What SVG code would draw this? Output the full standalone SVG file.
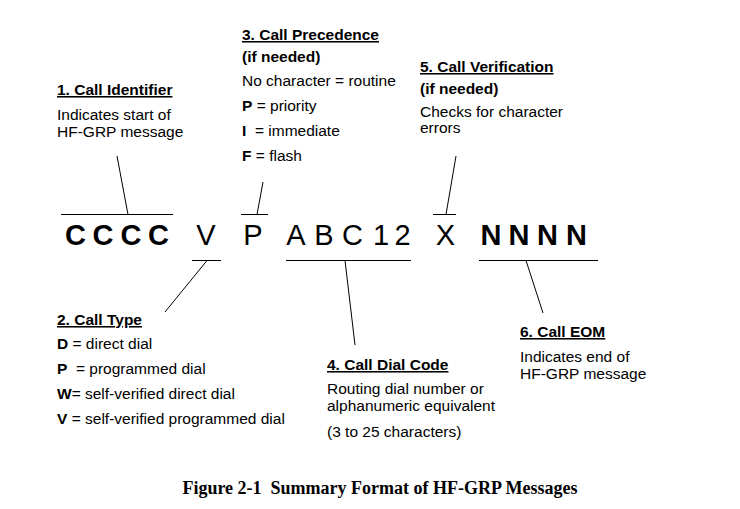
<svg xmlns="http://www.w3.org/2000/svg" width="740" height="509" viewBox="0 0 740 509">
<style>
  text { font-family: "Liberation Sans", Arial, sans-serif; fill: #000; white-space: pre; }
  .h { font-size: 15.5px; font-weight: bold; text-decoration: underline; }
  .hb { font-size: 15.5px; font-weight: bold; }
  .t { font-size: 15.5px; }
  .b { font-weight: bold; }
  .big { font-size: 29px; text-anchor: middle; }
  .bigb { font-size: 29px; font-weight: bold; text-anchor: middle; }
  .cap { font-family: "Liberation Serif", "Times New Roman", serif; font-size: 18px; font-weight: bold; }
  .ln { stroke: #000; stroke-width: 1; fill: none; }
</style>
<rect width="740" height="509" fill="#fff"/>

<g id="field-letters">
  <text class="bigb" x="75.5" y="245">C</text>
  <text class="bigb" x="103" y="245">C</text>
  <text class="bigb" x="131" y="245">C</text>
  <text class="bigb" x="158.5" y="245">C</text>
  <text class="big" x="206" y="245">V</text>
  <text class="big" x="253" y="245">P</text>
  <text class="big" x="296" y="245">A</text>
  <text class="big" x="324" y="245">B</text>
  <text class="big" x="352.5" y="245">C</text>
  <text class="big" x="381" y="245">1</text>
  <text class="big" x="402.5" y="245">2</text>
  <text class="big" x="445.5" y="245">X</text>
  <text class="bigb" x="491" y="245">N</text>
  <text class="bigb" x="519" y="245">N</text>
  <text class="bigb" x="547.5" y="245">N</text>
  <text class="bigb" x="576.5" y="245">N</text>
</g>

<g id="connectors">
  <path class="ln" d="M61 214.5H173 M128 214.5L117 156"/>
  <path class="ln" d="M241 214.5H268 M257 214.5L263 182"/>
  <path class="ln" d="M433 214.5H456 M446 214.5L456 156"/>
  <path class="ln" d="M192 260.5H221 M207 260.5L165 312"/>
  <path class="ln" d="M286 260.5H411 M345 260.5L355 345"/>
  <path class="ln" d="M479 260.5H598 M526 260.5L543 313"/>
</g>

<g id="call-identifier">
  <text class="h" x="57" y="95">1. Call Identifier</text>
  <text class="t" x="57" y="120">Indicates start of</text>
  <text class="t" x="57" y="137">HF-GRP message</text>
</g>

<g id="call-precedence">
  <text class="h" x="242" y="40">3. Call Precedence</text>
  <text class="hb" x="242" y="62">(if needed)</text>
  <text class="t" x="242" y="86">No character = routine</text>
  <text class="t" x="242" y="111"><tspan class="b">P</tspan> = priority</text>
  <text class="t" x="242" y="136"><tspan class="b">I</tspan>  = immediate</text>
  <text class="t" x="242" y="161"><tspan class="b">F</tspan> = flash</text>
</g>

<g id="call-verification">
  <text class="h" x="420" y="72">5. Call Verification</text>
  <text class="hb" x="420" y="94">(if needed)</text>
  <text class="t" x="420" y="117">Checks for character</text>
  <text class="t" x="420" y="133">errors</text>
</g>

<g id="call-type">
  <text class="h" x="57" y="325">2. Call Type</text>
  <text class="t" x="57" y="349"><tspan class="b">D</tspan> = direct dial</text>
  <text class="t" x="57" y="374"><tspan class="b">P</tspan>  = programmed dial</text>
  <text class="t" x="57" y="399"><tspan class="b">W</tspan>= self-verified direct dial</text>
  <text class="t" x="57" y="424"><tspan class="b">V</tspan> = self-verified programmed dial</text>
</g>

<g id="call-dial-code">
  <text class="h" x="327" y="370">4. Call Dial Code</text>
  <text class="t" x="327" y="394">Routing dial number or</text>
  <text class="t" x="327" y="411">alphanumeric equivalent</text>
  <text class="t" x="327" y="437">(3 to 25 characters)</text>
</g>

<g id="call-eom">
  <text class="h" x="520" y="337">6. Call EOM</text>
  <text class="t" x="520" y="362">Indicates end of</text>
  <text class="t" x="520" y="379">HF-GRP message</text>
</g>

<text class="cap" x="380" y="494" text-anchor="middle">Figure 2-1  Summary Format of HF-GRP Messages</text>
</svg>
